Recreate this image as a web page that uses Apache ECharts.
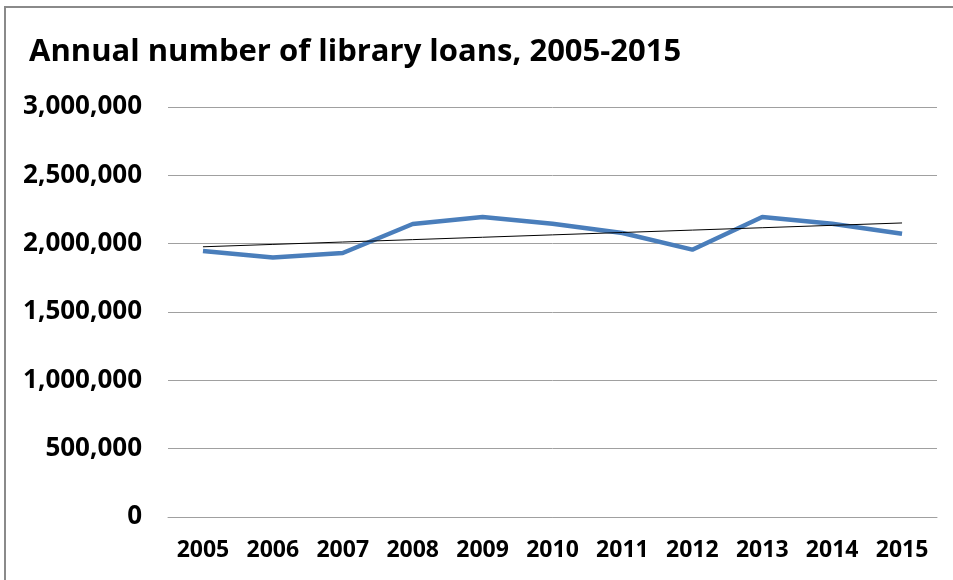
<!DOCTYPE html>
<html>
<head>
<meta charset="utf-8">
<script src="https://cdn.jsdelivr.net/npm/echarts@6/dist/echarts.min.js"></script>
<style>
  html, body { margin: 0; padding: 0; background: #fff; }
  #main { width: 953px; height: 580px; }
</style>
</head>
<body>
<div id="main"></div>
<script>
// data
var years = ['2005', '2006', '2007', '2008', '2009', '2010', '2011', '2012', '2013', '2014', '2015'];
var loans = [1946000, 1898000, 1932000, 2144000, 2195000, 2146000, 2078000, 1956000, 2195000, 2146000, 2072000];
var yTicks = [0, 500000, 1000000, 1500000, 2000000, 2500000, 3000000];

// linear trendline (least squares over the series)
function trend(vals) {
  var n = vals.length, sx = 0, sy = 0, sxy = 0, sxx = 0;
  vals.forEach(function (v, i) { sx += i; sy += v; sxy += i * v; sxx += i * i; });
  var b = (n * sxy - sx * sy) / (n * sxx - sx * sx);
  var a = (sy - b * sx) / n;
  return vals.map(function (v, i) { return a + b * i; });
}

var font = '"Open Sans", Lato, sans-serif';
var chart = echarts.init(document.getElementById('main'));
chart.setOption({
  animation: false,
  title: {
    text: 'Annual number of library loans, 2005-2015',
    left: 24,
    top: 32,
    textStyle: { fontFamily: font, fontSize: 31, fontWeight: 'bold', color: '#000' }
  },
  graphic: [
    { type: 'line', shape: { x1: 4, y1: 7, x2: 953, y2: 7 }, style: { stroke: '#8a8a8a', lineWidth: 2 } },
    { type: 'line', shape: { x1: 5, y1: 6, x2: 5, y2: 580 }, style: { stroke: '#8a8a8a', lineWidth: 2 } }
  ],
  grid: { left: 168, right: 16, top: 107, bottom: 63 },
  xAxis: {
    type: 'category',
    data: years,
    boundaryGap: true,
    axisLine: { lineStyle: { color: '#a0a0a0', width: 1 } },
    axisTick: { show: false },
    axisLabel: { fontFamily: font, fontSize: 23, fontWeight: 'bold', color: '#000', margin: 22 }
  },
  yAxis: {
    type: 'value',
    min: yTicks[0],
    max: yTicks[yTicks.length - 1],
    interval: 500000,
    axisLine: { show: false },
    axisTick: { show: false },
    splitLine: { lineStyle: { color: '#a0a0a0', width: 1 } },
    axisLabel: {
      fontFamily: font, fontSize: 26, fontWeight: 'bold', color: '#000', margin: 26,
      formatter: function (v) { return v.toLocaleString('en-US'); }
    }
  },
  series: [
    {
      name: 'Loans',
      type: 'line',
      data: loans,
      symbol: 'none',
      lineStyle: { color: '#4a7ebb', width: 4.5 },
      z: 3
    },
    {
      name: 'Trend',
      type: 'line',
      data: trend(loans),
      symbol: 'none',
      lineStyle: { color: '#000', width: 1 },
      z: 4
    }
  ]
});
</script>
</body>
</html>
